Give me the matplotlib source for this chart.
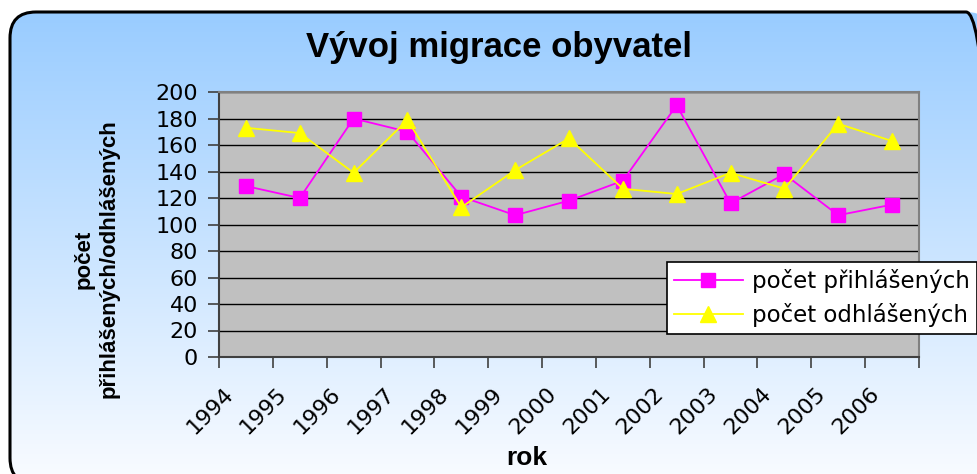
import matplotlib
matplotlib.use("Agg")
import matplotlib.pyplot as plt
import matplotlib.transforms as mtransforms
from matplotlib.patches import FancyBboxPatch
import numpy as np

# data
roky = ["1994", "1995", "1996", "1997", "1998", "1999", "2000",
        "2001", "2002", "2003", "2004", "2005", "2006"]
prihlaseni = [129, 120, 180, 170, 121, 107, 118, 133, 190, 116, 138, 107, 115]
odhlaseni = [173, 169, 139, 179, 113, 141, 165, 127, 123, 139, 127, 176, 163]
y_ticks = [0, 20, 40, 60, 80, 100, 120, 140, 160, 180, 200]

W, H = 978, 474
fig = plt.figure(figsize=(W / 100, H / 100), dpi=100)
fig.patch.set_facecolor("white")

# background: rounded box with blue -> white gradient
bg = fig.add_axes([0, 0, 1, 1], zorder=-10)
bg.set_axis_off()
bg.set_xlim(0, W)
bg.set_ylim(0, H)
x0, y0, bw, bh = 10, -10, 982, H - 12 + 10
box = FancyBboxPatch((x0, y0), bw, bh, boxstyle="round,pad=0,rounding_size=26",
                     facecolor="none", edgecolor="black", linewidth=2.2, zorder=3)
bg.add_patch(box)
top = np.array([153, 204, 255]) / 255
bottom = np.array([250, 252, 255]) / 255
t = np.linspace(0, 1, 256)[:, None, None]
grad = top * (1 - t) + bottom * t
img = bg.imshow(grad, extent=[x0, x0 + bw, y0, y0 + bh], origin="upper",
                aspect="auto", zorder=1)
img.set_clip_path(box)

# plot area
ax = fig.add_axes([219 / W, 117 / H, 700 / W, 265 / H])
ax.set_facecolor("#C0C0C0")
xs = np.arange(len(roky)) + 0.5
ax.plot(xs, prihlaseni, color="#FF00FF", lw=1.3, marker="s", markersize=10,
        markerfacecolor="#FF00FF", markeredgecolor="#FF00FF", label="počet přihlášených",
        zorder=4, clip_on=False)
ax.plot(xs, odhlaseni, color="#FFFF00", lw=1.3, marker="^", markersize=12,
        markerfacecolor="#FFFF00", markeredgecolor="#FFFF00", label="počet odhlášených",
        zorder=4, clip_on=False)

ax.set_xlim(0, len(roky))
ax.set_ylim(0, 200)
ax.set_yticks(y_ticks)
ax.set_yticklabels([str(v) for v in y_ticks], fontsize=16, family="DejaVu Sans")
ax.yaxis.grid(True, color="black", lw=1)
ax.set_axisbelow(True)

ax.set_xticks(xs)
ax.set_xticklabels(roky, rotation=45, ha="right", fontsize=16, family="DejaVu Sans")
ax.set_xticks(np.arange(len(roky) + 1), minor=True)
ax.tick_params(axis="x", which="major", length=0, pad=19)
ax.tick_params(axis="x", which="minor", length=8, width=1.2, color="#404040")
ax.tick_params(axis="y", length=8, width=1.2, color="#404040", pad=7)
off = mtransforms.ScaledTranslation(-9 / 100, 0, fig.dpi_scale_trans)
for lab in ax.get_xticklabels():
    lab.set_transform(lab.get_transform() + off)

for s in ["left", "bottom"]:
    ax.spines[s].set_color("#404040")
    ax.spines[s].set_linewidth(1.5)
for s in ["top", "right"]:
    ax.spines[s].set_color("#808080")
    ax.spines[s].set_linewidth(1.5)

# texts
fig.text(499 / W, 1 - 48 / H, "Vývoj migrace obyvatel", ha="center", va="center",
         fontsize=25, fontweight="bold", family="Liberation Sans")
fig.text(527 / W, 1 - 458 / H, "rok", ha="center", va="center",
         fontsize=19, fontweight="bold", family="Liberation Sans")
fig.text(97 / W, 1 - 259 / H, "počet\npřihlášených/odhlášených", rotation=90,
         ha="center", va="center", multialignment="center", linespacing=1.25,
         fontsize=16, fontweight="bold", family="Liberation Sans")

leg = fig.legend(loc="upper left", bbox_to_anchor=(667 / W, 1 - 262 / H),
                 prop={"family": "DejaVu Sans", "size": 16.5}, fancybox=False,
                 framealpha=1, edgecolor="black", handlelength=3.0,
                 borderpad=0.3, labelspacing=0.45, handletextpad=0.4,
                 borderaxespad=0)
leg.get_frame().set_linewidth(1.2)

fig.savefig("out.png", dpi=100)
